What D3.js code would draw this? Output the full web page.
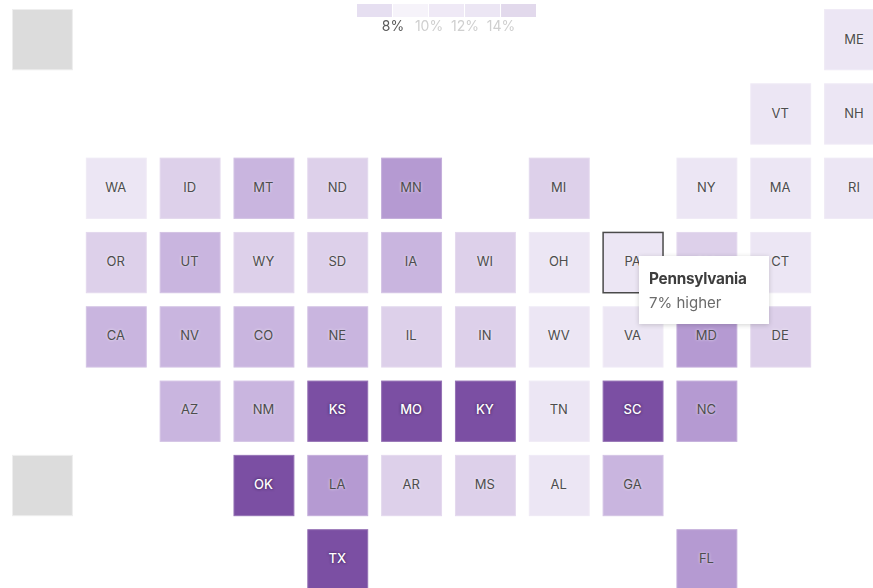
<!DOCTYPE html>
<html>
<head>
<meta charset="utf-8">
<script src="https://cdn.jsdelivr.net/npm/d3@7"></script>
<style>
  body { margin: 0; background: #fff; overflow: hidden; }
  svg { display: block; font-family: Inter, "Liberation Sans", sans-serif; filter: blur(0.35px); }
  .abbr { font-size: 13px; text-anchor: middle; }
  .tip { position: absolute; left: 639px; top: 256px; width: 130px; height: 68px; background: #fff;
    box-shadow: 0 1px 5px rgba(0,0,0,.18); font-family: Inter, "Liberation Sans", sans-serif; filter: blur(0.3px); }
  .tip .name { position: absolute; left: 10px; top: 13px; font-size: 15.3px; font-weight: 700; color: #3d3d3d; letter-spacing: -.25px; }
  .tip .val { position: absolute; left: 10px; top: 37px; font-size: 15px; color: #6b6b6b; }
</style>
</head>
<body>
<script>
// tile map layout, one list per row, "" is an empty tile
var tileRows = [
  ["AK","","","","","","","","","","","ME"],
  ["","","","","","","","","","","VT","NH"],
  ["","WA","ID","MT","ND","MN","","MI","","NY","MA","RI"],
  ["","OR","UT","WY","SD","IA","WI","OH","PA","NJ","CT",""],
  ["","CA","NV","CO","NE","IL","IN","WV","VA","MD","DE",""],
  ["","","AZ","NM","KS","MO","KY","TN","SC","NC","",""],
  ["HI","","","OK","LA","AR","MS","AL","GA","","",""],
  ["","","","","TX","","","","","FL","",""]
];

// percent higher, estimated from the colours (only PA is readable)
var states = ["ME","VT","NH","WA","ID","MT","ND","MN","MI","NY","MA","RI","OR","UT","WY","SD","IA","WI","OH","PA","NJ","CT","CA","NV","CO","NE","IL","IN","WV","VA","MD","DE","AZ","NM","KS","MO","KY","TN","SC","NC","OK","LA","AR","MS","AL","GA","TX","FL"];
var values = [7,7,7,6,8.5,10.5,8.5,12.5,8.5,7,7,7,8.5,10.5,8.5,8.5,10.5,8.5,7,7,8.5,7,10.5,10,10,10,8.5,8.5,7,7,12.5,8.5,10,10,15,15,15,7,15,12.5,15,12.5,8.5,8.5,7,10,15,12.5];

var thresholds = [8, 10, 12, 14];
var colors = ["#ece6f4","#ddd0ea","#c9b5df","#b59ad2","#7b4fa3"];

var legendColors = ["#e6dff1","#f6f3fa","#efe9f6","#ece6f4","#e2d9ec"];
var legendTicks = ["8%","10%","12%","14%"];

var width = 873, height = 588;
var valueOf = d3.rollup(states.map(function(s, i){ return [s, values[i]]; }), function(v){ return v[0][1]; }, function(d){ return d[0]; });

var color = d3.scaleThreshold().domain(thresholds).range(colors);

var x = d3.scaleBand().domain(d3.range(12)).range([12, 885]).paddingInner(0.175).paddingOuter(0);
var y = d3.scaleBand().domain(d3.range(8)).range([9, 590.5]).paddingInner(0.175).paddingOuter(0);

var tiles = [];
tileRows.forEach(function(row, r){
  row.forEach(function(name, c){
    if (name) tiles.push({name: name, r: r, c: c, value: valueOf.get(name)});
  });
});

var svg = d3.select("body").append("svg").attr("width", width).attr("height", height);

var tile = svg.selectAll("g.tile")
  .data(tiles)
  .enter()
  .append("g")
  .attr("class", "tile")
  .attr("transform", function(d){ return "translate(" + x(d.c) + "," + y(d.r) + ")"; });

tile.append("rect")
  .attr("x", 0.5)
  .attr("y", 0.5)
  .attr("width", x.bandwidth() - 1)
  .attr("height", y.bandwidth() - 1)
  .attr("fill", function(d){ return d.value == null ? "#dcdcdc" : color(d.value); })
  .attr("stroke", function(d){
    if (d.name === "PA") return "#4a4a4a";
    return d.value == null ? "#eeeeee" : d3.interpolateRgb(color(d.value), "#fff")(0.2);
  })
  .attr("stroke-width", function(d){ return d.name === "PA" ? 1.5 : 1; });

tile.filter(function(d){ return d.value != null; })
  .append("text")
  .attr("class", "abbr")
  .attr("x", x.bandwidth() / 2 - 0.5)
  .attr("y", function(d){ return y.bandwidth() / 2 + 4.5 - d.r * 0.25; })
  .attr("fill", function(d){ return d.value >= 14 ? "#fff" : "#4d4d4d"; })
  .attr("font-weight", function(d){ return d.value >= 14 ? 500 : 400; })
  .style("text-shadow", function(d){
    return d.value >= 14 ? "0 0 3px rgba(40,20,60,.9)" : "0 0 3px rgba(255,255,255,.8)";
  })
  .text(function(d){ return d.name; });

// legend
var lx = d3.scaleBand().domain(d3.range(legendColors.length)).range([357, 536]).paddingInner(0.03);
svg.selectAll("rect.swatch")
  .data(legendColors)
  .enter()
  .append("rect")
  .attr("class", "swatch")
  .attr("x", function(d, i){ return lx(i); })
  .attr("y", 4)
  .attr("width", lx.bandwidth())
  .attr("height", 13)
  .attr("fill", function(d){ return d; });

svg.selectAll("text.tick")
  .data(legendTicks)
  .enter()
  .append("text")
  .attr("class", "tick")
  .attr("x", function(d, i){ return lx(i + 1); })
  .attr("y", 31)
  .attr("text-anchor", "middle")
  .attr("font-size", 14)
  .attr("fill", function(d, i){ return i === 0 ? "#5a5a5a" : "#cfcfcf"; })
  .text(function(d){ return d; });

// tooltip stays open on Pennsylvania
var tip = d3.select("body").append("div").attr("class", "tip");
tip.append("div").attr("class", "name").text("Pennsylvania");
tip.append("div").attr("class", "val").text(valueOf.get("PA") + "% higher");
</script>
</body>
</html>
